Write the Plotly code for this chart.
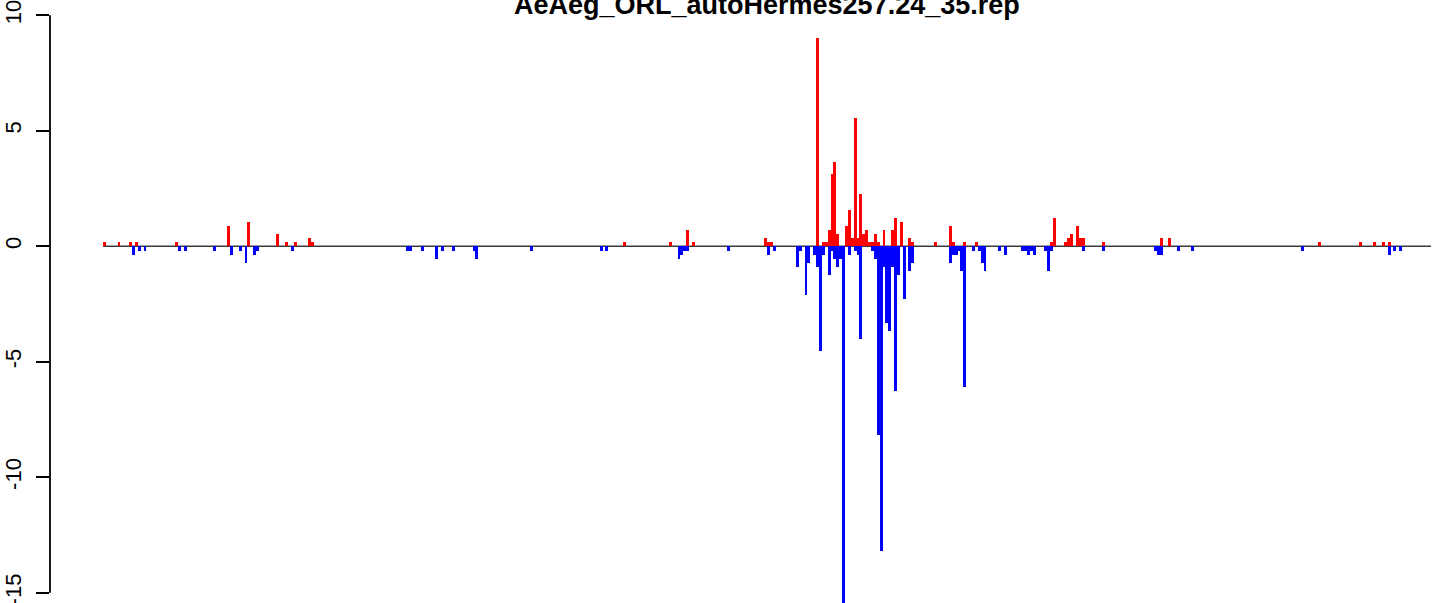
import plotly.graph_objects as go

# ---------------- data ----------------
title_text = "AeAeg_ORL_autoHermes257.24_35.rep"
n_positions = 460

red_pos = [0, 5, 9, 11, 25, 43, 50, 60, 63, 66, 71, 72, 180, 196, 202, 204, 229, 230, 231,
           247, 249, 250, 251, 252, 253, 254, 257, 258, 259, 260, 261, 262, 263, 264, 265, 266,
           267, 268, 270, 273, 274, 276, 279, 280, 288, 293, 294, 298, 302, 328, 329, 333, 334,
           335, 337, 338, 339, 346, 366, 369, 421, 435, 440, 443, 445]
red_val = [0.17, 0.17, 0.17, 0.17, 0.17, 0.88, 1.05, 0.53, 0.17, 0.17, 0.36, 0.17, 0.17, 0.17, 0.71, 0.17, 0.36, 0.17, 0.17,
           9.02, 0.17, 0.17, 0.71, 3.13, 3.65, 0.53, 0.88, 1.57, 0.36, 5.56, 0.36, 2.27, 0.53, 0.71, 0.17, 0.17,
           0.53, 0.17, 0.71, 0.71, 1.23, 1.05, 0.36, 0.17, 0.17, 0.88, 0.17, 0.17, 0.17, 0.17, 1.23, 0.17, 0.36,
           0.53, 0.88, 0.36, 0.36, 0.17, 0.36, 0.36, 0.17, 0.17, 0.17, 0.17, 0.17]

blue_pos = [10, 12, 14, 26, 28, 38, 44, 47, 49, 52, 53, 65,
            105, 106, 110, 115, 117, 121, 128, 129, 148,
            172, 174, 199, 200, 201, 202, 216, 230, 232,
            240, 241, 243, 244, 246, 247, 248, 249, 251, 252, 253, 254, 255, 256, 258, 260, 261, 262,
            266, 267, 268, 269, 270, 271, 272, 273, 274, 275, 277, 279, 280,
            293, 294, 295, 296, 297, 298, 301, 303, 304, 305, 310, 312, 318, 319, 320, 321, 322,
            326, 327, 328, 339, 346, 364, 365, 366, 372, 377, 415, 445, 447, 449]
blue_val = [-0.36, -0.19, -0.19, -0.19, -0.19, -0.19, -0.36, -0.19, -0.71, -0.36, -0.19, -0.19,
            -0.19, -0.19, -0.19, -0.53, -0.19, -0.19, -0.19, -0.53, -0.19,
            -0.19, -0.19, -0.53, -0.36, -0.19, -0.19, -0.19, -0.36, -0.19,
            -0.88, -0.19, -2.09, -0.71, -0.36, -0.88, -4.52, -0.36, -1.23, -0.19, -0.53, -0.88, -0.53, -16.0, -0.36, -0.19, -0.36, -4.0,
            -0.19, -0.53, -8.15, -13.18, -0.88, -3.3, -3.65, -0.88, -6.25, -1.23, -2.27, -1.05, -0.71,
            -0.71, -0.36, -0.36, -0.19, -1.05, -6.07, -0.19, -0.19, -0.71, -1.05, -0.19, -0.36, -0.19, -0.19, -0.36, -0.19, -0.36,
            -0.19, -1.05, -0.19, -0.19, -0.19, -0.19, -0.36, -0.36, -0.19, -0.19, -0.19, -0.36, -0.19, -0.19]

y_ticks = [-15, -10, -5, 0, 5, 10]
y_tick_labels = ["-15", "-10", "-5", "0", "5", "10"]

# ---------------- figure ----------------
fig = go.Figure()
fig.add_trace(go.Bar(x=red_pos, y=red_val, width=1, marker=dict(color="#FF0000", line=dict(width=0)),
                     showlegend=False))
fig.add_trace(go.Bar(x=blue_pos, y=blue_val, width=1, marker=dict(color="#0000FF", line=dict(width=0)),
                     showlegend=False))

# baseline across the bar positions
fig.add_shape(type="line", xref="x", yref="y", x0=-0.5, x1=n_positions - 0.5, y0=0, y1=0,
              line=dict(color="#3a3a3a", width=1.4), layer="below")
# R-style y axis line spanning first to last tick
fig.add_shape(type="line", xref="paper", yref="y", x0=0, x1=0, y0=min(y_ticks), y1=max(y_ticks),
              line=dict(color="black", width=1.8))

# title (partly cut by the top edge, as in the reference)
fig.add_annotation(text="<b>" + title_text + "</b>", xref="paper", yref="paper",
                   x=(767 - 50) / 1383, y=1 - 5 / 603, xanchor="center", yanchor="middle",
                   showarrow=False,
                   font=dict(size=27, family="Liberation Sans, Arial, sans-serif", color="black"))

fig.update_layout(
    width=1433, height=603,
    margin=dict(l=50, r=0, t=0, b=0, autoexpand=False),
    paper_bgcolor="white", plot_bgcolor="white",
    barmode="overlay", bargap=0,
    font=dict(family="Liberation Sans, Arial, sans-serif", size=22, color="black"),
    xaxis=dict(range=[-18.9, 460.2], visible=False, showgrid=False, zeroline=False, automargin=False),
    yaxis=dict(range=[-15.44, 10.66], tickmode="array", tickvals=y_ticks, ticktext=y_tick_labels,
               tickangle=-90, ticks="outside", ticklen=13, tickwidth=1.8, tickcolor="black",
               showgrid=False, zeroline=False, showline=False, ticklabelstandoff=6,
               ticklabeloverflow="allow", automargin=False, tickfont=dict(size=22)),
)

fig.write_html("out.html", config={"displayModeBar": False},
               post_script="document.body.style.margin='0';document.body.style.overflow='hidden';")
